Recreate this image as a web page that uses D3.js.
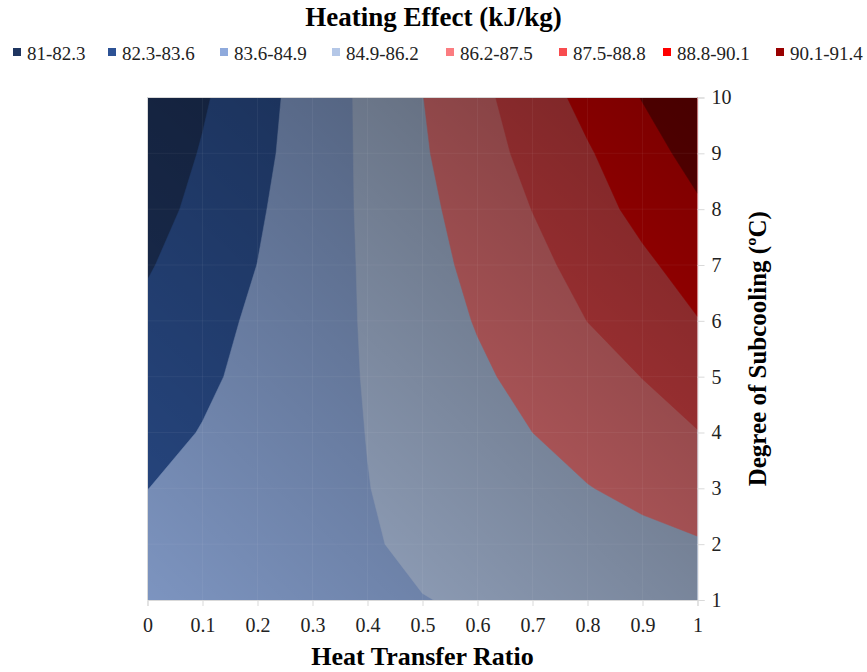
<!DOCTYPE html>
<html>
<head>
<meta charset="utf-8">
<script src="https://cdn.jsdelivr.net/npm/d3@7"></script>
<style>
    body { margin: 0; background: #fff; }
    text { font-family: "Liberation Serif", "Times New Roman", serif; }
</style>
</head>
<body>
<svg id="chart" width="867" height="672"></svg>
<script>
// heat transfer ratio (x) and degree of subcooling (y)
var ratios = [0, 0.1, 0.2, 0.3, 0.4, 0.5, 0.6, 0.7, 0.8, 0.9, 1];
var subcooling = [1, 2, 3, 4, 5, 6, 7, 8, 9, 10];

// heating effect (kJ/kg), one row per subcooling value
var heating = [
    [84.30, 84.42, 84.54, 84.66, 84.80, 84.88, 84.98, 85.09, 85.19, 85.30, 85.40],
    [83.95, 84.17, 84.39, 84.61, 84.83, 85.05, 85.26, 85.47, 85.68, 85.89, 86.10],
    [83.59, 83.92, 84.24, 84.56, 84.88, 85.20, 85.52, 85.84, 86.16, 86.48, 86.80],
    [83.23, 83.65, 84.07, 84.50, 84.92, 85.35, 85.78, 86.20, 86.63, 87.05, 87.47],
    [82.88, 83.40, 83.92, 84.44, 84.97, 85.49, 86.02, 86.53, 87.02, 87.52, 88.02],
    [82.58, 83.19, 83.80, 84.40, 85.01, 85.64, 86.27, 86.89, 87.51, 88.14, 88.76],
    [82.20, 82.90, 83.61, 84.33, 85.05, 85.78, 86.50, 87.19, 87.89, 88.59, 89.29],
    [81.82, 82.64, 83.46, 84.28, 85.10, 85.92, 86.72, 87.52, 88.33, 89.13, 89.93],
    [81.50, 82.39, 83.29, 84.21, 85.14, 86.07, 86.98, 87.85, 88.68, 89.60, 90.53],
    [81.14, 82.15, 83.17, 84.17, 85.17, 86.18, 87.17, 88.17, 89.17, 90.15, 91.20]
];

var thresholds = [81, 82.3, 83.6, 84.9, 86.2, 87.5, 88.8, 90.1];
var bandLabels = ["81-82.3", "82.3-83.6", "83.6-84.9", "84.9-86.2", "86.2-87.5", "87.5-88.8", "88.8-90.1", "90.1-91.4"];
var bandColors = ["#1f3560", "#2d5295", "#8faadc", "#b4c7e7", "#fb7c80", "#f84c4f", "#ff0000", "#990000"];

var svg = d3.select('#chart');

var pLeft = 147.5, pRight = 697.5, pTop = 97.5, pBottom = 600;

var x = d3.scaleLinear().domain([0, 1]).range([pLeft, pRight]);
var y = d3.scaleLinear().domain([1, 10]).range([pBottom, pTop]);

// d3.contours puts value i at grid coordinate i + 0.5
var gx = d3.scaleLinear().domain([0.5, ratios.length - 0.5]).range([ratios[0], ratios[ratios.length - 1]]);
var gy = d3.scaleLinear().domain([0.5, subcooling.length - 0.5]).range([subcooling[0], subcooling[subcooling.length - 1]]);

var proj = d3.geoTransform({
    point: function (px, py) {
        this.stream.point(x(gx(px)), y(gy(py)));
    }
});
var path = d3.geoPath(proj);

var values = [];
heating.forEach(function (row) {
    row.forEach(function (v) { values.push(v); });
});

var contours = d3.contours()
    .size([ratios.length, subcooling.length])
    .thresholds(thresholds)(values);

var defs = svg.append('defs');
defs.append('clipPath').attr('id', 'plotclip')
    .append('rect')
    .attr('x', pLeft).attr('y', pTop)
    .attr('width', pRight - pLeft).attr('height', pBottom - pTop);

// lighting of the excel surface: lighter bottom-left, darker top-right
var shade = defs.append('linearGradient').attr('id', 'shade')
    .attr('x1', 0).attr('y1', 1).attr('x2', 1).attr('y2', 0);
shade.append('stop').attr('offset', 0).attr('stop-color', '#000').attr('stop-opacity', 0.13);
shade.append('stop').attr('offset', 1).attr('stop-color', '#000').attr('stop-opacity', 0.53);

var plot = svg.append('g').attr('clip-path', 'url(#plotclip)');

plot.selectAll('path.band')
    .data(contours)
    .enter()
    .append('path')
    .attr('class', 'band')
    .attr('d', path)
    .attr('fill', function (d, i) { return bandColors[i]; })
    .attr('stroke', function (d, i) { return bandColors[i]; })
    .attr('stroke-width', 0.5);

plot.append('rect')
    .attr('x', pLeft).attr('y', pTop)
    .attr('width', pRight - pLeft).attr('height', pBottom - pTop)
    .attr('fill', 'url(#shade)');

// faint cell edges of the surface
plot.selectAll('line.vcell')
    .data(ratios.slice(1, -1))
    .enter()
    .append('line')
    .attr('x1', d => x(d)).attr('x2', d => x(d))
    .attr('y1', pTop).attr('y2', pBottom)
    .attr('stroke', '#fff').attr('stroke-opacity', 0.05);

plot.selectAll('line.hcell')
    .data(subcooling.slice(1, -1))
    .enter()
    .append('line')
    .attr('y1', d => y(d)).attr('y2', d => y(d))
    .attr('x1', pLeft).attr('x2', pRight)
    .attr('stroke', '#fff').attr('stroke-opacity', 0.05);

// border on the left and top
svg.append('path')
    .attr('d', 'M' + pLeft + ',' + pBottom + 'V' + pTop + 'H' + pRight)
    .attr('fill', 'none')
    .attr('stroke', '#d9d9d9');

var xAxis = svg.append('g')
    .attr('transform', 'translate(0,' + pBottom + ')')
    .call(d3.axisBottom(x).tickValues(ratios).tickSize(6).tickPadding(12).tickFormat(d => d));

var yAxis = svg.append('g')
    .attr('transform', 'translate(' + pRight + ',0)')
    .call(d3.axisRight(y).tickValues(subcooling).tickSize(7).tickPadding(7).tickFormat(d => d));

[xAxis, yAxis].forEach(function (a) {
    a.select('.domain').attr('stroke', '#d9d9d9');
    a.selectAll('.tick line').attr('stroke', '#d9d9d9');
    a.selectAll('.tick text')
        .attr('fill', '#222')
        .style('font-family', '"Liberation Serif", "Times New Roman", serif')
        .style('font-size', '20px');
});

svg.append('text')
    .attr('x', 433.5)
    .attr('y', 26)
    .attr('text-anchor', 'middle')
    .attr('font-size', '27px')
    .attr('font-weight', 'bold')
    .text('Heating Effect (kJ/kg)');

svg.append('text')
    .attr('x', (pLeft + pRight) / 2)
    .attr('y', 665)
    .attr('text-anchor', 'middle')
    .attr('font-size', '26px')
    .attr('font-weight', 'bold')
    .text('Heat Transfer Ratio');

svg.append('text')
    .attr('transform', 'translate(766,' + ((pTop + pBottom) / 2) + ') rotate(-90)')
    .attr('text-anchor', 'middle')
    .attr('font-size', '25px')
    .attr('font-weight', 'bold')
    .text('Degree of Subcooling (ºC)');

// legend
var legendX = [13, 108, 220, 332, 446, 559, 663, 776];

var legendItems = svg.append('g')
    .attr('class', 'legend')
    .selectAll('.legend-item')
    .data(bandLabels)
    .enter()
    .append('g')
    .attr('class', 'legend-item')
    .attr('transform', (d, i) => 'translate(' + legendX[i] + ',48)');

legendItems.append('rect')
    .attr('width', 8)
    .attr('height', 8)
    .style('fill', (d, i) => bandColors[i]);

legendItems.append('text')
    .attr('x', 14)
    .attr('y', 12)
    .attr('font-size', '19px')
    .attr('fill', '#222')
    .text(d => d);
</script>
</body>
</html>
